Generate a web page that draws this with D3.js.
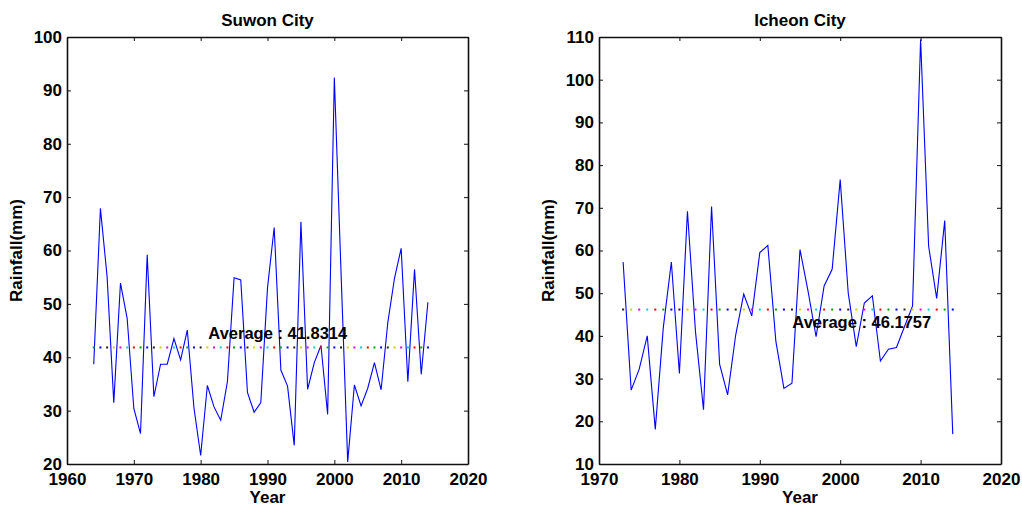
<!DOCTYPE html>
<html>
<head>
<meta charset="utf-8">
<script src="https://cdn.jsdelivr.net/npm/d3@7"></script>
<style>
  html, body { margin: 0; padding: 0; background: #fff; }
  svg { display: block; }
  text { font-family: "Liberation Sans", Arial, Helvetica, sans-serif; font-weight: bold; fill: #000; }
</style>
</head>
<body>
<svg id="chart" width="1022" height="506"></svg>
<script>
// ---------- data ----------
const suwonYears = d3.range(1964, 2015);
const suwonRain = [
  38.7, 67.9, 55.1, 31.5, 53.9, 47.3, 30.4, 25.7, 59.2, 32.6,
  38.7, 38.7, 43.5, 39.5, 45.1, 30.5, 21.6, 34.7, 30.7, 28.2,
  35.4, 54.9, 54.5, 33.4, 29.7, 31.5, 53.0, 64.3, 37.6, 34.6,
  23.5, 65.4, 34.0, 39.0, 42.2, 29.3, 92.4, 56.0, 20.4, 34.8,
  30.9, 34.2, 39.0, 33.9, 46.5, 54.8, 60.4, 35.4, 56.5, 36.8,
  50.3
];
const suwonAvg = 41.8314;

const icheonYears = d3.range(1973, 2015);
const icheonRain = [
  57.3, 27.3, 32.2, 40.0, 18.1, 42.0, 57.3, 31.2, 69.2, 41.0,
  22.7, 70.3, 33.4, 26.2, 40.2, 49.8, 44.7, 59.5, 61.2, 38.7,
  27.7, 28.9, 60.2, 50.5, 39.8, 51.7, 55.6, 76.6, 50.0, 37.5,
  47.7, 49.4, 34.1, 36.9, 37.3, 42.2, 47.0, 109.4, 61.0, 48.8,
  67.0, 17.0
];
const icheonAvg = 46.1757;

const suwonXTicks = [1960, 1970, 1980, 1990, 2000, 2010, 2020];
const suwonYTicks = [20, 30, 40, 50, 60, 70, 80, 90, 100];
const icheonXTicks = [1970, 1980, 1990, 2000, 2010, 2020];
const icheonYTicks = [10, 20, 30, 40, 50, 60, 70, 80, 90, 100, 110];

// color order of the dotted average marker, indexed by year
const avgColors = ["#00a000", "#0000ff", "#202020", "#d0d000", "#e000e0", "#00d0d0", "#ff0000"];
const colorBaseYear = 1964;

// ---------- drawing ----------
const svg = d3.select("#chart");
svg.append("rect").attr("width", 1022).attr("height", 506).attr("fill", "#fff");

function panel(cfg) {
  const x = d3.scaleLinear().domain(cfg.xDomain).range([cfg.left, cfg.right]);
  const y = d3.scaleLinear().domain(cfg.yDomain).range([cfg.bottom, cfg.top]);
  const g = svg.append("g");

  // data line
  const pts = cfg.years.map((yr, i) => [yr, cfg.values[i]]);
  g.append("path")
    .datum(pts)
    .attr("fill", "none")
    .attr("stroke", "#0000ff")
    .attr("stroke-width", 1.1)
    .attr("stroke-linejoin", "miter")
    .attr("d", d3.line().x(d => x(d[0])).y(d => y(d[1])));

  // dotted average
  g.selectAll("rect.avg")
    .data(cfg.years)
    .enter().append("rect")
    .attr("class", "avg")
    .attr("x", d => x(d) - 1)
    .attr("y", y(cfg.avg) - 1)
    .attr("width", 2)
    .attr("height", 2)
    .attr("fill", d => avgColors[((d - colorBaseYear) % 7 + 7) % 7]);

  // average label
  g.append("text")
    .attr("x", x(cfg.labelAt[0]))
    .attr("y", y(cfg.labelAt[1]))
    .attr("font-size", 16.5)
    .text("Average : " + cfg.avg.toFixed(4));

  // axes
  const fmt = d3.format("d");
  const axB = g.append("g").attr("transform", `translate(0,${cfg.bottom})`)
    .call(d3.axisBottom(x).tickValues(cfg.xTicks).tickFormat(fmt).tickSizeInner(-4).tickSizeOuter(0).tickPadding(9));
  const axT = g.append("g").attr("transform", `translate(0,${cfg.top})`)
    .call(d3.axisTop(x).tickValues(cfg.xTicks).tickFormat("").tickSizeInner(-4).tickSizeOuter(0));
  const axL = g.append("g").attr("transform", `translate(${cfg.left},0)`)
    .call(d3.axisLeft(y).tickValues(cfg.yTicks).tickFormat(fmt).tickSizeInner(-4).tickSizeOuter(0).tickPadding(5));
  const axR = g.append("g").attr("transform", `translate(${cfg.right},0)`)
    .call(d3.axisRight(y).tickValues(cfg.yTicks).tickFormat("").tickSizeInner(-4).tickSizeOuter(0));
  [axB, axT, axL, axR].forEach(a => {
    a.selectAll(".domain").attr("stroke", "#111").attr("stroke-width", 1.6);
    a.selectAll(".tick line").attr("stroke", "#111").attr("stroke-width", 1);
    a.selectAll("text")
      .attr("font-size", 17)
      .attr("font-weight", "bold")
      .attr("font-family", '"Liberation Sans", Arial, sans-serif')
      .attr("fill", "#000");
  });

  // title and labels
  g.append("text")
    .attr("x", (cfg.left + cfg.right) / 2)
    .attr("y", 26)
    .attr("text-anchor", "middle")
    .attr("font-size", 17)
    .text(cfg.title);
  g.append("text")
    .attr("x", (cfg.left + cfg.right) / 2)
    .attr("y", 503)
    .attr("text-anchor", "middle")
    .attr("font-size", 17)
    .text("Year");
  g.append("text")
    .attr("transform", `translate(${cfg.ylabelX},${(cfg.top + cfg.bottom) / 2}) rotate(-90)`)
    .attr("text-anchor", "middle")
    .attr("font-size", 17)
    .text("Rainfall(mm)");
}

panel({
  title: "Suwon City",
  years: suwonYears, values: suwonRain, avg: suwonAvg,
  xDomain: [1960, 2020], yDomain: [20, 100],
  xTicks: suwonXTicks, yTicks: suwonYTicks,
  left: 67, right: 468, top: 37, bottom: 464,
  ylabelX: 22, labelAt: [1981.15, 43.45]
});

panel({
  title: "Icheon City",
  years: icheonYears, values: icheonRain, avg: icheonAvg,
  xDomain: [1970, 2020], yDomain: [10, 110],
  xTicks: icheonXTicks, yTicks: icheonYTicks,
  left: 599, right: 1001, top: 37, bottom: 464,
  ylabelX: 554, labelAt: [1994.05, 41.85]
});
</script>
</body>
</html>
